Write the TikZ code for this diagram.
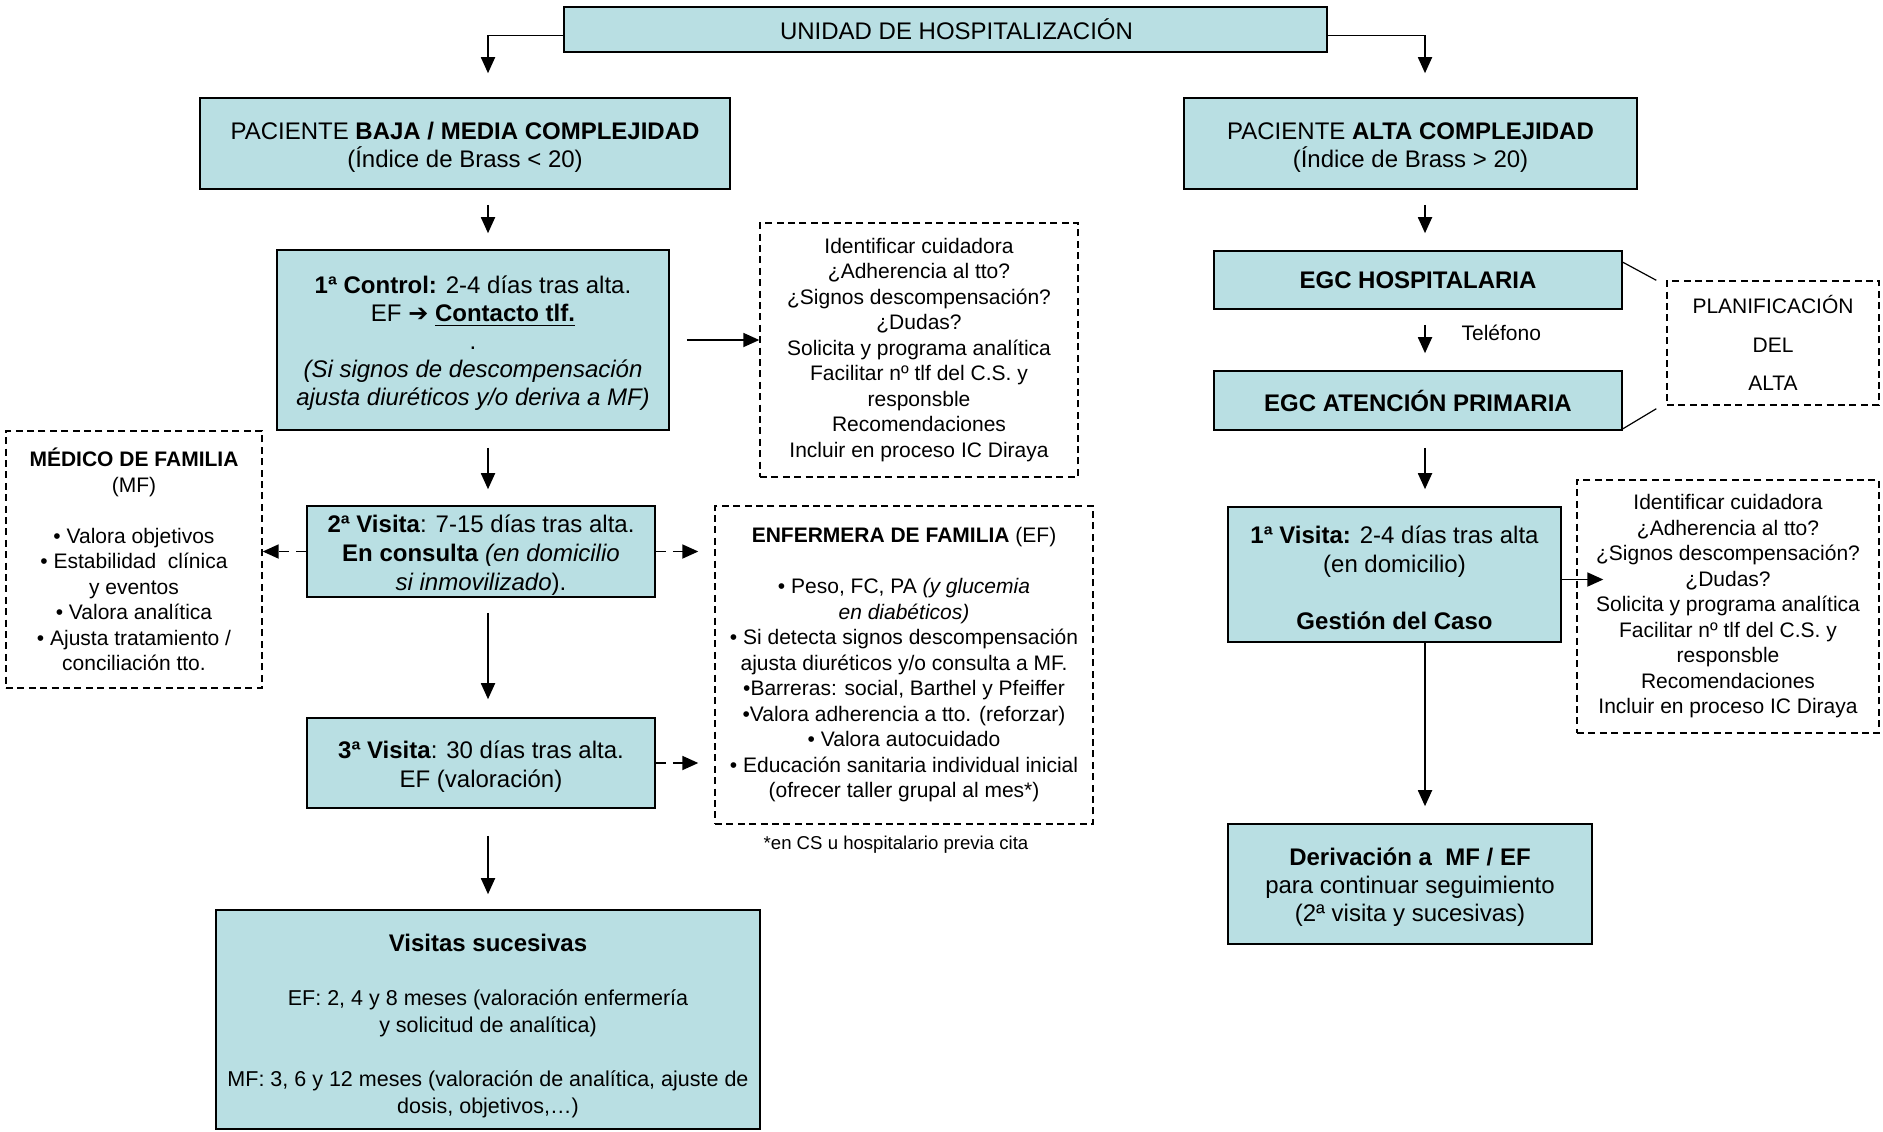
\documentclass[tikz,border=0pt]{standalone}
\usepackage{fontspec}
\setmainfont{Liberation Sans}
\newfontfamily\dejavu{DejaVu Sans}
\usetikzlibrary{positioning}
\usetikzlibrary{arrows.meta}
\definecolor{celeste}{RGB}{185,223,227}
\newcommand{\bajar}[1]{\rule{0pt}{#1}}

\begin{document}
\begin{tikzpicture}[x=0.5pt, y=-0.5pt,
    caja/.style={rectangle, draw=black, fill=celeste, line width=0.8pt, inner sep=0pt, align=center, font=\fontsize{12}{14.4}\selectfont},
    nota/.style={rectangle, draw=black, line width=0.7pt, dash pattern=on 3.5pt off 2.2pt, inner sep=0pt, align=center, font=\fontsize{10.5}{12.75}\selectfont},
    flecha/.style={-{Triangle[length=8pt, width=7pt]}, line width=0.9pt},
    flechad/.style={flecha, dash pattern=on 5pt off 3.5pt}]
    \useasboundingbox (0,0) rectangle (1883,1131);

    % columnas de las flechas
    \coordinate (lx) at (488,0);
    \coordinate (rx) at (1425,0);

    \node[caja, minimum width=381.5pt, minimum height=22.5pt] (unidad) at (945.5,29.5) {\hspace*{11pt}UNIDAD DE HOSPITALIZACIÓN};

    \node[caja, minimum width=265pt, minimum height=45.5pt] (baja) at (465,143.5)
        {\bajar{12.4pt}PACIENTE \textbf{BAJA / MEDIA COMPLEJIDAD}\\(Índice de Brass < 20)};
    \node[caja, minimum width=226.5pt, minimum height=45.5pt] (alta) at (1410.5,143.5)
        {\bajar{12.4pt}PACIENTE \textbf{ALTA COMPLEJIDAD}\\(Índice de Brass > 20)};

    % rama izquierda
    \node[caja, minimum width=196pt, minimum height=90pt, font=\fontsize{12}{14}\selectfont] (control) at (473,340)
        {\bajar{12.4pt}\textbf{1ª Control:} 2-4 días tras alta.\\EF {\dejavu\bfseries ➔} \underline{\textbf{Contacto tlf.}}\\.\\
         \textit{(Si signos de descompensación}\\\textit{ajusta diuréticos y/o deriva a MF)}};
    \node[nota, minimum width=159pt, minimum height=127pt] (tareas) at (919,350)
        {Identificar cuidadora\\¿Adherencia al tto?\\¿Signos descompensación?\\¿Dudas?\\Solicita y programa analítica\\
         Facilitar nº tlf del C.S. y\\responsble\\Recomendaciones\\Incluir en proceso IC Diraya};
    \node[caja, minimum width=174pt, minimum height=45.5pt] (visita2) at (481,551.5)
        {\bajar{12.4pt}\textbf{2ª Visita}: 7-15 días tras alta.\\\textbf{En consulta} \textit{(en domicilio}\\\textit{si inmovilizado}).};
    \node[nota, minimum width=128pt, minimum height=128.5pt] (medico) at (134,559.5)
        {\textbf{MÉDICO DE FAMILIA}\\(MF)\\[12.75pt]• Valora objetivos\\• Estabilidad\ \ clínica\\y eventos\\
         • Valora analítica\\• Ajusta tratamiento /\\conciliación tto.};
    \node[nota, minimum width=189pt, minimum height=159pt] (enfermera) at (904,665)
        {\textbf{ENFERMERA DE FAMILIA} (EF)\\[12.75pt]• Peso, FC, PA \textit{(y glucemia}\\\textit{en diabéticos)}\\
         • Si detecta signos descompensación\\ajusta diuréticos y/o consulta a MF.\\•Barreras: social, Barthel y Pfeiffer\\
         •Valora adherencia a tto. (reforzar)\\• Valora autocuidado\\• Educación sanitaria individual inicial\\
         (ofrecer taller grupal al mes*)};
    \node[font=\fontsize{9.3}{11}\selectfont] (pie) at (896,845) {*en CS u hospitalario previa cita};
    \node[caja, minimum width=174pt, minimum height=45pt] (visita3) at (481,763)
        {\bajar{12.4pt}\textbf{3ª Visita}: 30 días tras alta.\\EF (valoración)};
    \node[caja, minimum width=272pt, minimum height=109.5pt, font=\fontsize{10.75}{13.5}\selectfont] (sucesivas) at (488,1019.5)
        {{\fontsize{12}{13.5}\selectfont\bajar{14.8pt}\textbf{Visitas sucesivas}}\\[13.5pt]EF: 2, 4 y 8 meses (valoración enfermería\\
         y solicitud de analítica)\\[13.5pt]MF: 3, 6 y 12 meses (valoración de analítica, ajuste de\\dosis, objetivos,…)};

    % rama derecha
    \node[caja, minimum width=204pt, minimum height=29pt] (egch) at (1418,280) {\textbf{EGC HOSPITALARIA}};
    \node[caja, minimum width=204pt, minimum height=29.5pt] (egcap) at (1418,400.5) {\textbf{EGC ATENCIÓN PRIMARIA}};
    \node[nota, minimum width=106pt, minimum height=62pt, font=\fontsize{10.5}{19.2}\selectfont] (planif) at (1773,343)
        {PLANIFICACIÓN\\DEL\\ALTA};
    \node[caja, minimum width=166.5pt, minimum height=67.5pt] (visita1) at (1394.5,574.5)
        {\bajar{12.4pt}\textbf{1ª Visita:} 2-4 días tras alta\\(en domicilio)\\[14.4pt]\textbf{Gestión del Caso}};
    \node[nota, minimum width=151pt, minimum height=126.5pt] (tareasb) at (1728,606.5)
        {Identificar cuidadora\\¿Adherencia al tto?\\¿Signos descompensación?\\¿Dudas?\\Solicita y programa analítica\\
         Facilitar nº tlf del C.S. y\\responsble\\Recomendaciones\\Incluir en proceso IC Diraya};
    \node[caja, minimum width=182pt, minimum height=60pt, font=\fontsize{12}{14}\selectfont] (deriv) at (1410,884)
        {\bajar{12.4pt}\textbf{Derivación a \ MF / EF}\\para continuar seguimiento\\(2ª visita y sucesivas)};

    % flechas
    \draw[flecha, shorten >=12pt] ([yshift=-3pt]unidad.west) -| (lx |- baja.north);
    \draw[flecha, shorten >=12pt] ([yshift=-3pt]unidad.east) -| (rx |- alta.north);
    \draw[flecha, shorten <=7.5pt, shorten >=8pt] (lx |- baja.south) -- (lx |- control.north);
    \draw[flecha, shorten <=8.5pt, shorten >=8pt] (lx |- control.south) -- (lx |- visita2.north);
    \draw[flecha, shorten <=7.5pt, shorten >=9pt] (lx |- visita2.south) -- (lx |- visita3.north);
    \draw[flecha, shorten <=13.5pt, shorten >=7.5pt] (lx |- visita3.south) -- (lx |- sucesivas.north);
    \draw[flecha, shorten <=8.5pt] (control.east) -- (control.east -| tareas.west);
    \draw[flechad] (visita2.west) -- (visita2.west -| medico.east);
    \draw[flechad, shorten >=8pt] (visita2.east) -- (visita2.east -| enfermera.west);
    \draw[flechad, shorten >=8pt] (visita3.east) -- (visita3.east -| enfermera.west);

    \draw[flecha, shorten <=7.5pt, shorten >=8.5pt] (rx |- alta.south) -- (rx |- egch.north);
    \draw[flecha, shorten <=7.5pt, shorten >=8.5pt] (rx |- egch.south) -- (rx |- egcap.north)
        node[midway, right=14.5pt, yshift=3.5pt, font=\fontsize{10.5}{12}\selectfont] {Teléfono};
    \draw[flecha, shorten <=8.5pt, shorten >=8.5pt] (rx |- egcap.south) -- (rx |- visita1.north);
    \draw[flecha, shorten >=8.5pt] (rx |- visita1.south) -- (rx |- deriv.north);
    \draw[flecha] ([yshift=-2.5pt]visita1.east) -- ([yshift=-2.5pt, xshift=13.5pt]visita1.east -| tareasb.west);
    \draw[line width=0.6pt] ([yshift=-6pt]egch.north east) -- ([xshift=-5pt]planif.north west);
    \draw[line width=0.6pt] ([yshift=1pt]egcap.south east) -- ([xshift=-5pt, yshift=-1.5pt]planif.south west);
\end{tikzpicture}
\end{document}
